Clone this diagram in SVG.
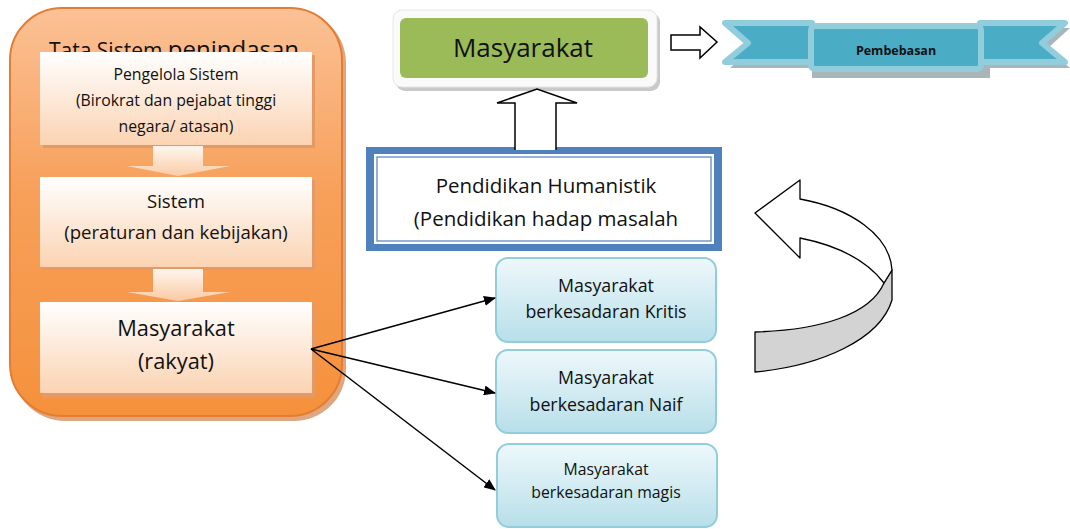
<svg xmlns="http://www.w3.org/2000/svg" width="1070" height="529" viewBox="0 0 1070 529">
<defs>
<linearGradient id="gOr" x1="0" y1="0" x2="0" y2="1"><stop offset="0" stop-color="#fbc195"/><stop offset="0.45" stop-color="#f7a05a"/><stop offset="1" stop-color="#f5913c"/></linearGradient>
<linearGradient id="gBox" x1="0" y1="0" x2="0" y2="1"><stop offset="0" stop-color="#ffffff"/><stop offset="1" stop-color="#fbd3b2"/></linearGradient>
<linearGradient id="gArr" x1="0" y1="0" x2="0" y2="1"><stop offset="0" stop-color="#ffffff"/><stop offset="1" stop-color="#fbd0ac"/></linearGradient>
<linearGradient id="gBlue" x1="0" y1="0" x2="0" y2="1"><stop offset="0" stop-color="#eef8fb"/><stop offset="1" stop-color="#b7dfe9"/></linearGradient>
<marker id="ah" markerWidth="12" markerHeight="10" refX="11" refY="5" orient="auto" markerUnits="userSpaceOnUse"><path d="M0,0 L12,5 L0,10 Z" fill="#000"/></marker>
<style>
.t{font-family:"Open Sans",Lato,"Liberation Sans",sans-serif;fill:#111;text-anchor:middle}
.ib{fill:url(#gBox)}
.ish{fill:#e39a66}
.lb{fill:url(#gBlue);stroke:#92cddc;stroke-width:2}
.ba{fill:#fff;stroke:#000;stroke-width:1.5}
.cn{stroke:#000;stroke-width:1.5;fill:none;marker-end:url(#ah)}
</style>
</defs>
<rect width="1070" height="529" fill="#fff"/>

<g id="container">
<rect x="13" y="11" width="333" height="410" rx="52" fill="#c96d2b" opacity="0.6"/>
<rect x="10" y="8" width="332" height="408" rx="52" fill="url(#gOr)" stroke="#e47c33" stroke-width="2"/>
<text class="t" x="174" y="58" font-size="24"><tspan font-size="21">Tata Sistem </tspan>penindasan</text>
</g>

<g id="box1">
<rect x="43" y="55" width="272" height="93" class="ish"/>
<rect x="40" y="52" width="272" height="93" class="ib"/>
<text class="t" x="176" y="80" font-size="15.8">Pengelola Sistem</text>
<text class="t" x="176" y="106" font-size="15.8">(Birokrat dan pejabat tinggi</text>
<text class="t" x="176" y="132" font-size="15.8">negara/ atasan)</text>
</g>
<g id="arr1"><path d="M153,146 L203,146 L203,166 L230,166 L178,176 L127,166 L153,166 Z" fill="url(#gArr)" opacity="0.9"/></g>

<g id="box2">
<rect x="43" y="180" width="272" height="90" class="ish"/>
<rect x="40" y="177" width="272" height="90" class="ib"/>
<text class="t" x="176" y="208" font-size="18.6">Sistem</text>
<text class="t" x="176" y="239" font-size="18.6">(peraturan dan kebijakan)</text>
</g>
<g id="arr2"><path d="M153,269 L203,269 L203,292 L230,292 L178,301 L127,292 L153,292 Z" fill="url(#gArr)" opacity="0.9"/></g>

<g id="box3">
<rect x="43" y="305" width="272" height="93" class="ish"/>
<rect x="40" y="302" width="272" height="91" class="ib"/>
<text class="t" x="176" y="336" font-size="21.8">Masyarakat</text>
<text class="t" x="176" y="369" font-size="21.8">(rakyat)</text>
</g>

<g id="masyarakat-top">
<rect x="396" y="13" width="264" height="78" rx="9" fill="#c9c9c9"/>
<rect x="393" y="10" width="264" height="77" rx="9" fill="#fafafa" stroke="#e6e6e6"/>
<rect x="400" y="18" width="248" height="60" rx="6" fill="#9bbb59"/>
<text class="t" x="523" y="57" font-size="26">Masyarakat</text>
</g>

<g id="pembebasan">
<path d="M730,28 L990,28 L1070,28 L1048,48 L1070,68 L990,68 L990,78 L812,78 L812,68 L730,68 L752,48 Z" fill="#93a3a8" opacity="0.8"/>
<path d="M725,23 L812,23 L812,62 L725,62 L748,43 Z" fill="#4bacc6" stroke="#92cddc" stroke-width="6" stroke-linejoin="round"/>
<path d="M1065,23 L980,23 L980,62 L1065,62 L1042,43 Z" fill="#4bacc6" stroke="#92cddc" stroke-width="6" stroke-linejoin="round"/>
<rect x="811" y="26" width="170" height="43" rx="4" fill="#4bacc6" stroke="#92cddc" stroke-width="6"/>
<text class="t" x="896" y="55" font-size="12.5" font-weight="bold" fill="#111">Pembebasan</text>
</g>

<g id="humanistik">
<rect x="366" y="147" width="356" height="104" fill="#4f81bd"/>
<rect x="374" y="154" width="340" height="90" fill="#fff"/>
<rect x="377" y="157" width="334" height="84" fill="none" stroke="#4f81bd" stroke-width="1.2"/>
<text class="t" x="546" y="193" font-size="20.5">Pendidikan Humanistik</text>
<text class="t" x="546" y="226" font-size="20.5">(Pendidikan hadap masalah</text>
</g>

<g id="kritis">
<rect x="496" y="258" width="220" height="84" rx="12" class="lb"/>
<text class="t" x="606" y="292" font-size="17.8">Masyarakat</text>
<text class="t" x="606" y="318" font-size="17.8">berkesadaran Kritis</text>
</g>
<g id="naif">
<rect x="496" y="350" width="220" height="83" rx="12" class="lb"/>
<text class="t" x="606" y="384" font-size="17.8">Masyarakat</text>
<text class="t" x="606" y="411" font-size="17.8">berkesadaran Naif</text>
</g>
<g id="magis">
<rect x="497" y="444" width="220" height="83" rx="12" class="lb"/>
<text class="t" x="606" y="475" font-size="15.8">Masyarakat</text>
<text class="t" x="606" y="498" font-size="15.8">berkesadaran magis</text>
</g>

<g id="curved-arrow">
<path d="M884,283 L892,270 L892,300 C880,340 820,366 755,372 L755,332 C820,330 870,315 884,283 Z" fill="#d3d3d3" stroke="#000" stroke-width="1.3" stroke-linejoin="round"/>
<path d="M755,213 L800,180 L800,199 C850,208 890,235 892,270 L884,283 C868,262 840,246 800,238 L800,258 Z" fill="#fff" stroke="#000" stroke-width="1.3" stroke-linejoin="round"/>
</g>

<g id="connectors">
<path class="ba" d="M515,150 L515,103 L497,103 L537,89 L577,103 L556,103 L556,150"/>
<path class="ba" d="M671,35 L700,35 L700,27 L717,42 L700,58 L700,50 L671,50 Z"/>
<line class="cn" x1="311" y1="349" x2="495" y2="298"/>
<line class="cn" x1="311" y1="349" x2="495" y2="393"/>
<line class="cn" x1="311" y1="349" x2="495" y2="490"/>
</g>
</svg>
